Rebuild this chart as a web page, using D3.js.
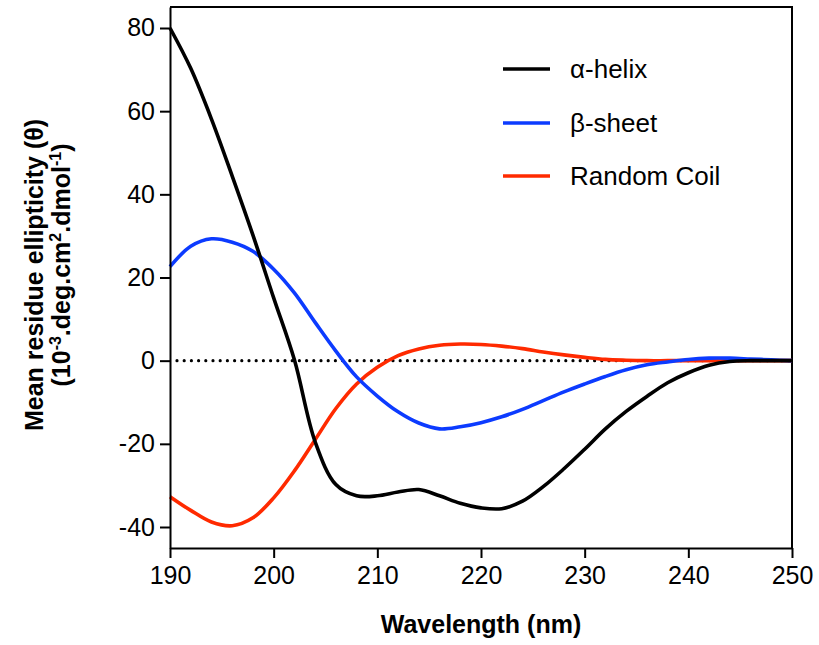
<!DOCTYPE html>
<html>
<head>
<meta charset="utf-8">
<script src="https://cdn.jsdelivr.net/npm/d3@7"></script>
<style>
  body { margin: 0; background: #fff; }
  svg { display: block; font-family: Arial, "Liberation Sans", sans-serif; }
</style>
</head>
<body>
<svg id="chart" width="819" height="645"></svg>
<script>
// WAVELENGTHS (nm)
const wavelengths = [190, 192, 194, 196, 198, 200, 202, 204, 206, 208, 210, 212, 214, 216, 218, 220,
  222, 224, 226, 228, 230, 232, 234, 236, 238, 240, 242, 244, 246, 248, 250];

// SERIES VALUES (10^-3 deg.cm2.dmol-1)
const alphaHelix = [80, 70.3, 58.1, 44.4, 30.2, 15.1, 0.2, -19.5, -29.8, -32.5, -32.5, -31.6, -31, -32.5,
  -34.3, -35.4, -35.6, -33.8, -30.3, -26, -21.3, -16.4, -12.2, -8.6, -5.3, -2.9, -1.1, -0.2, 0, 0, 0];
const betaSheet = [22.6, 27.5, 29.3, 28.5, 26.3, 22, 16.3, 9.2, 2.3, -3.9, -8.5, -12.3, -15, -16.4,
  -15.9, -14.9, -13.5, -11.7, -9.6, -7.5, -5.6, -3.8, -2.2, -1, -0.3, 0.3, 0.6, 0.6, 0.4, 0.2, 0];
const randomCoil = [-32.7, -36, -38.8, -39.7, -37.8, -33, -26.5, -19, -11.5, -5.6, -1.6, 1.2, 2.8, 3.7,
  4, 3.9, 3.5, 2.9, 2.1, 1.4, 0.8, 0.3, 0.1, 0, 0, 0, 0, 0, 0, 0, 0];

const seriesNames = ["\u03b1-helix", "\u03b2-sheet", "Random Coil"];
const seriesColors = ["#000000", "#0c3bff", "#ff2a00"];
const seriesValues = [alphaHelix, betaSheet, randomCoil];

// TICK LABELS
const xTicks = [190, 200, 210, 220, 230, 240, 250];
const yTicks = [-40, -20, 0, 20, 40, 60, 80];

const svg = d3.select("#chart");

const plotLeft = 170, plotRight = 792, plotTop = 7, plotBottom = 548;

const x = d3.scaleLinear().domain([190, 250]).range([plotLeft, plotRight]);
const y = d3.scaleLinear().domain([-45.05, 85.05]).range([plotBottom, plotTop]);

// FRAME (top + right)
svg.append("path")
  .attr("d", `M${plotLeft},${plotTop}H${plotRight}V${plotBottom}`)
  .attr("fill", "none")
  .attr("stroke", "#000")
  .attr("stroke-width", 2);

// ZERO LINE
svg.append("line")
  .attr("x1", x(190) + 7)
  .attr("x2", x(250))
  .attr("y1", y(0))
  .attr("y2", y(0))
  .attr("stroke", "#000")
  .attr("stroke-width", 3.2)
  .attr("stroke-linecap", "round")
  .attr("stroke-dasharray", "0,7.2");

// CURVES
const line = d3.line()
  .x((d, i) => x(wavelengths[i]))
  .y(d => y(d))
  .curve(d3.curveCatmullRom.alpha(0.5));

[randomCoil, betaSheet, alphaHelix].forEach((vals) => {
  const idx = seriesValues.indexOf(vals);
  svg.append("path")
    .datum(vals)
    .attr("d", line)
    .attr("fill", "none")
    .attr("stroke", seriesColors[idx])
    .attr("stroke-width", 3.6)
    .attr("stroke-linejoin", "round");
});

// AXES
const xAxis = svg.append("g")
  .attr("transform", `translate(0,${plotBottom})`)
  .call(d3.axisBottom(x).tickValues(xTicks).tickFormat(d => String(d))
    .tickSize(10).tickSizeOuter(0).tickPadding(8));

const yAxis = svg.append("g")
  .attr("transform", `translate(${plotLeft},0)`)
  .call(d3.axisLeft(y).tickValues(yTicks).tickFormat(d => String(d))
    .tickSize(10).tickSizeOuter(0).tickPadding(5));

[xAxis, yAxis].forEach(g => {
  g.selectAll("path, line").attr("stroke", "#000").attr("stroke-width", 2);
  g.selectAll("text")
    .attr("fill", "#000")
    .style("font-family", "Arial, 'Liberation Sans', sans-serif")
    .style("font-size", "25px");
});

// LEGEND
const legend = svg.append("g");
seriesNames.forEach((name, i) => {
  const ly = [69, 123, 176][i];
  legend.append("line")
    .attr("x1", 503).attr("x2", 550)
    .attr("y1", ly).attr("y2", ly)
    .attr("stroke", seriesColors[i])
    .attr("stroke-width", 3.6);
  legend.append("text")
    .attr("x", 570)
    .attr("y", ly)
    .attr("dy", "0.35em")
    .style("font-size", "26px")
    .text(name);
});

// AXIS TITLES
svg.append("text")
  .attr("x", (plotLeft + plotRight) / 2)
  .attr("y", 633)
  .attr("text-anchor", "middle")
  .style("font-size", "25px")
  .style("font-weight", "bold")
  .text("Wavelength (nm)");

svg.append("text")
  .attr("transform", "translate(43,275) rotate(-90)")
  .attr("text-anchor", "middle")
  .style("font-size", "25px")
  .style("font-weight", "bold")
  .text("Mean residue ellipticity (\u03b8)");

const yTitle2 = svg.append("text")
  .attr("transform", "translate(70,265) rotate(-90)")
  .attr("text-anchor", "middle")
  .style("font-size", "25px")
  .style("font-weight", "bold");
yTitle2.append("tspan").text("(10");
yTitle2.append("tspan").attr("dy", -9).style("font-size", "16px").text("-3");
yTitle2.append("tspan").attr("dy", 9).text(".deg.cm");
yTitle2.append("tspan").attr("dy", -9).style("font-size", "16px").text("2");
yTitle2.append("tspan").attr("dy", 9).text(".dmol");
yTitle2.append("tspan").attr("dy", -9).style("font-size", "16px").text("-1");
yTitle2.append("tspan").attr("dy", 9).text(")");
</script>
</body>
</html>
